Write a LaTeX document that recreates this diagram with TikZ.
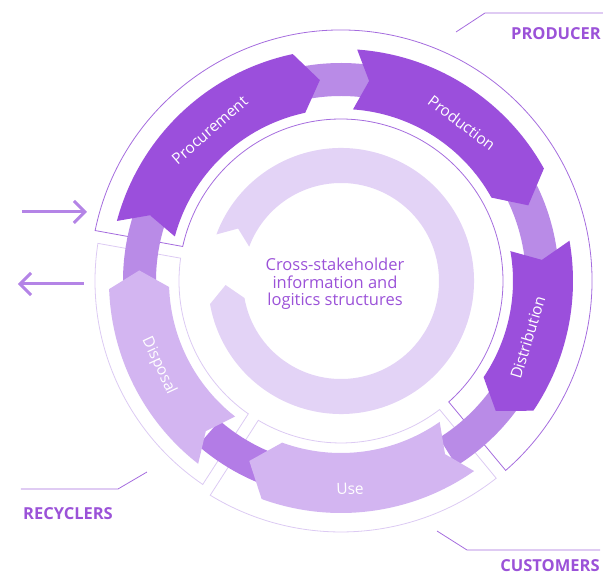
\documentclass[tikz,border=0pt]{standalone}
\usepackage{fontspec}
\setmainfont{Open Sans}
\usetikzlibrary{arrows.meta}
\definecolor{dk}{HTML}{9B4FDC}
\definecolor{md}{HTML}{B98BE7}
\definecolor{mdd}{HTML}{B37CE6}
\definecolor{lt}{HTML}{D3B5F1}
\definecolor{info}{HTML}{E3D3F6}
\definecolor{olp}{HTML}{A56CDE}
\definecolor{oll}{HTML}{DCCAF3}
\definecolor{txt}{HTML}{9B52D8}
\definecolor{arr}{HTML}{B484E6}
% tail angle, head angle, notch depth, head depth, inner r, outer r, options
\newcommand\chevr[7]{%
  \pgfmathsetmacro\rmid{(#5+#6)/2}%
  \fill[#7] (#1:#6) arc[start angle=#1, end angle=#2+#4, radius=#6]
    -- (#2:\rmid) -- (#2+#4:#5)
    arc[start angle=#2+#4, end angle=#1, radius=#5]
    -- (#1-#3:\rmid) -- cycle;}
\newcommand\band[3]{%
  \fill[#3] (#1:218) arc[start angle=#1, end angle=#2, radius=218]
    -- (#2:185) arc[start angle=#2, end angle=#1, radius=185] -- cycle;}
\tikzset{
  stagelbl/.style={text=white, font=\fontsize{15.5}{17}\selectfont, inner sep=0pt},
  grouplbl/.style={text=txt, font=\fontsize{16.5}{18}\selectfont\bfseries, inner sep=0pt},
  leader/.style={olp, line width=0.8pt},
  ioarrow/.style={arr, line width=3pt, -{Straight Barb[length=11pt,width=22pt,line width=3pt]}},
}
\begin{document}
\begin{tikzpicture}[x=1pt,y=1pt]
\useasboundingbox (-341,-294) rectangle (262,281);
% sector outlines
\draw[olp, line width=0.8pt] (168.4:251) arc[start angle=168.4, end angle=-49.0, radius=251]
  -- (-48.3:162) arc[start angle=-48.3, end angle=167.7, radius=162] -- cycle;
\draw[oll, line width=0.8pt] (171.2:246) arc[start angle=171.2, end angle=235.8, radius=246]
  -- (235.1:162) arc[start angle=235.1, end angle=171.9, radius=162] -- cycle;
\draw[oll, line width=0.8pt] (238.6:251) arc[start angle=238.6, end angle=308.2, radius=251]
  -- (307.5:162) arc[start angle=307.5, end angle=239.3, radius=162] -- cycle;
% information ring
\chevr{159.5}{-178}{6.5}{8}{98}{133}{info}
% connectors
\band{100}{82}{md}
\band{26}{6}{md}
\band{-36}{-58}{md}
\band{-113}{-131}{mdd}
\band{181}{161}{md}
% stages
\chevr{165}{96}{4}{6}{172}{232}{dk}
\chevr{86}{22}{4}{7}{172}{232}{dk}
\chevr{10}{-40}{4}{6}{172}{232}{dk}
\chevr{-55}{-117}{4}{7}{172}{232}{lt}
\chevr{-128}{-183}{4}{5}{172}{232}{lt}
% stage labels
\node[stagelbl, rotate=41] (lproc) at (131:200) {Procurement};
\node[stagelbl, rotate=-37] (lprod) at (52.6:199) {Production};
\node[stagelbl, rotate=73] (ldist) at (-16.8:195) {Distribution};
\node[stagelbl, rotate=2] (luse) at (-87.5:208) {Use};
\node[stagelbl, rotate=-65] (ldisp) at (205:201) {Disposal};
% centre text
\node[text=txt, align=center, font=\fontsize{16.5}{17.5}\selectfont, inner sep=0pt] (ctext) at (-6,-3)
  {Cross-stakeholder\\information and\\logitics structures};
% annotations in image coordinates
\begin{scope}[shift={(-341,281)}, yscale=-1]
  \coordinate (p1) at (456,32); \coordinate (p2) at (485,13); \coordinate (p3) at (603,13);
  \draw[leader] (p1) -- (p2) -- (p3);
  \node[grouplbl] (lproducer) at (556,34) {PRODUCER};
  \coordinate (r1) at (147,472); \coordinate (r2) at (118,489); \coordinate (r3) at (21,489);
  \draw[leader] (r1) -- (r2) -- (r3);
  \node[grouplbl] (lrecyclers) at (68,514) {RECYCLERS};
  \coordinate (c1) at (437,531); \coordinate (c2) at (467,550); \coordinate (c3) at (600,550);
  \draw[leader] (c1) -- (c2) -- (c3);
  \node[grouplbl] (lcustomers) at (550,566) {CUSTOMERS};
  \coordinate (a1s) at (22,212); \coordinate (a1e) at (87,212);
  \draw[ioarrow] (a1s) -- (a1e);
  \coordinate (a2s) at (84,284); \coordinate (a2e) at (18,284);
  \draw[ioarrow] (a2s) -- (a2e);
\end{scope}
\end{tikzpicture}
\end{document}
